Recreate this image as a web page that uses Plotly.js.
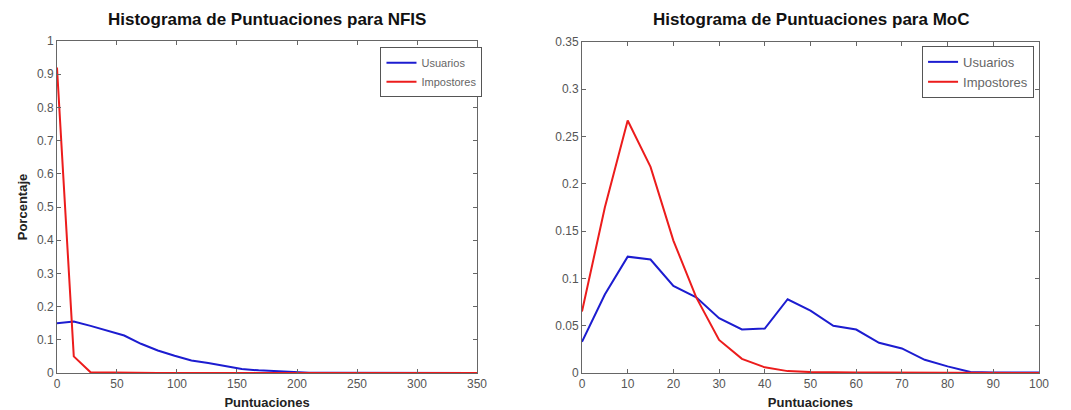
<!DOCTYPE html>
<html>
<head>
<meta charset="utf-8">
<script src="https://cdn.plot.ly/plotly-3.0.1.min.js"></script>
<style>
  html, body { margin: 0; padding: 0; background: #fff; }
  #chart { width: 1071px; height: 410px; }
</style>
</head>
<body>
<div id="chart"></div>
<script>
// NFIS score histogram (bin centres and normalised counts)
const nfisScores = [0, 14, 28, 42, 56, 70, 84, 98, 112, 126, 140, 154, 168, 182, 196, 210, 224, 238, 252, 266, 280, 294, 308, 322, 336, 350];
const nfisUsuarios = [0.150, 0.155, 0.142, 0.128, 0.113, 0.088, 0.068, 0.052, 0.038, 0.030, 0.020, 0.012, 0.008, 0.005, 0.002, 0.001, 0.001, 0.001, 0.001, 0.001, 0.000, 0.001, 0.001, 0.001, 0.000, 0.000];
const nfisImpostores = [0.920, 0.050, 0.002, 0.001, 0.000, 0.000, 0.000, 0.000, 0.000, 0.000, 0.000, 0.000, 0.000, 0.000, 0.000, 0.000, 0.000, 0.000, 0.000, 0.000, 0.000, 0.000, 0.000, 0.000, 0.000, 0.000];

// MoC score histogram
const mocScores = [0, 5, 10, 15, 20, 25, 30, 35, 40, 45, 50, 55, 60, 65, 70, 75, 80, 85, 90, 95, 100];
const mocUsuarios = [0.033, 0.083, 0.123, 0.120, 0.092, 0.080, 0.058, 0.046, 0.047, 0.078, 0.066, 0.050, 0.046, 0.032, 0.026, 0.014, 0.007, 0.001, 0.0005, 0.0005, 0.0005];
const mocImpostores = [0.065, 0.175, 0.267, 0.218, 0.140, 0.080, 0.035, 0.015, 0.006, 0.002, 0.001, 0.0005, 0.0005, 0.0005, 0.0005, 0.0005, 0.0005, 0.000, 0.000, 0.000, 0.000];

const nfisXTicks = [0, 50, 100, 150, 200, 250, 300, 350];
const nfisYTicks = [0, 0.1, 0.2, 0.3, 0.4, 0.5, 0.6, 0.7, 0.8, 0.9, 1];
const mocXTicks = [0, 10, 20, 30, 40, 50, 60, 70, 80, 90, 100];
const mocYTicks = [0, 0.05, 0.1, 0.15, 0.2, 0.25, 0.3, 0.35];

const BLUE = '#1c1cd0';
const RED = '#ec1c1c';
const FONT = 'Liberation Sans, Arial, sans-serif';
const LABEL_FONT = { family: FONT, size: 13, color: '#222', weight: 'bold' };
const TITLE_FONT = { family: FONT, size: 17, color: '#111', weight: 'bold' };

const traces = [
  { x: nfisScores, y: nfisUsuarios, name: 'Usuarios', type: 'scatter', mode: 'lines',
    line: { color: BLUE, width: 2 }, xaxis: 'x', yaxis: 'y', legend: 'legend' },
  { x: nfisScores, y: nfisImpostores, name: 'Impostores', type: 'scatter', mode: 'lines',
    line: { color: RED, width: 2 }, xaxis: 'x', yaxis: 'y', legend: 'legend' },
  { x: mocScores, y: mocUsuarios, name: 'Usuarios', type: 'scatter', mode: 'lines',
    line: { color: BLUE, width: 2 }, xaxis: 'x2', yaxis: 'y2', legend: 'legend2' },
  { x: mocScores, y: mocImpostores, name: 'Impostores', type: 'scatter', mode: 'lines',
    line: { color: RED, width: 2 }, xaxis: 'x2', yaxis: 'y2', legend: 'legend2' }
];

function axisStyle(extra) {
  return Object.assign({
    showgrid: false, zeroline: false, showline: true, mirror: 'ticks',
    linecolor: '#666', linewidth: 1, ticks: 'inside', ticklen: 4, tickcolor: '#666',
    tickfont: { family: FONT, size: 12, color: '#555' }
  }, extra);
}

const legendStyle = {
  bgcolor: '#fff', bordercolor: '#555', borderwidth: 1,
  xanchor: 'right', yanchor: 'top', tracegroupgap: 0
};

const layout = {
  width: 1071, height: 410,
  margin: { l: 0, r: 0, t: 0, b: 0 },
  paper_bgcolor: '#fff', plot_bgcolor: '#fff',
  showlegend: true,
  xaxis: axisStyle({ domain: [0.0532, 0.4454], range: [0, 350], tickvals: nfisXTicks,
    title: { text: 'Puntuaciones', font: LABEL_FONT, standoff: 8 } }),
  yaxis: axisStyle({ domain: [0.0902, 0.9], range: [0, 1], tickvals: nfisYTicks,
    ticktext: nfisYTicks.map(String),
    title: { text: 'Porcentaje', font: LABEL_FONT, standoff: 6 } }),
  xaxis2: axisStyle({ domain: [0.5434, 0.9701], range: [0, 100], tickvals: mocXTicks, anchor: 'y2',
    title: { text: 'Puntuaciones', font: LABEL_FONT, standoff: 8 } }),
  yaxis2: axisStyle({ domain: [0.0902, 0.8976], range: [0, 0.35], tickvals: mocYTicks, anchor: 'x2',
    ticktext: mocYTicks.map(String) }),
  legend: Object.assign({}, legendStyle, { x: 0.4505, y: 0.885,
    font: { family: FONT, size: 11, color: '#666' } }),
  legend2: Object.assign({}, legendStyle, { x: 0.9655, y: 0.888,
    font: { family: FONT, size: 13, color: '#666' } }),
  annotations: [
    { text: 'Histograma de Puntuaciones para NFIS', xref: 'paper', yref: 'paper',
      x: 0.249, y: 0.953, xanchor: 'center', yanchor: 'middle', showarrow: false,
      font: TITLE_FONT },
    { text: 'Histograma de Puntuaciones para MoC', xref: 'paper', yref: 'paper',
      x: 0.757, y: 0.953, xanchor: 'center', yanchor: 'middle', showarrow: false,
      font: TITLE_FONT }
  ]
};

Plotly.newPlot('chart', traces, layout, { displayModeBar: false, staticPlot: true });
</script>
</body>
</html>
